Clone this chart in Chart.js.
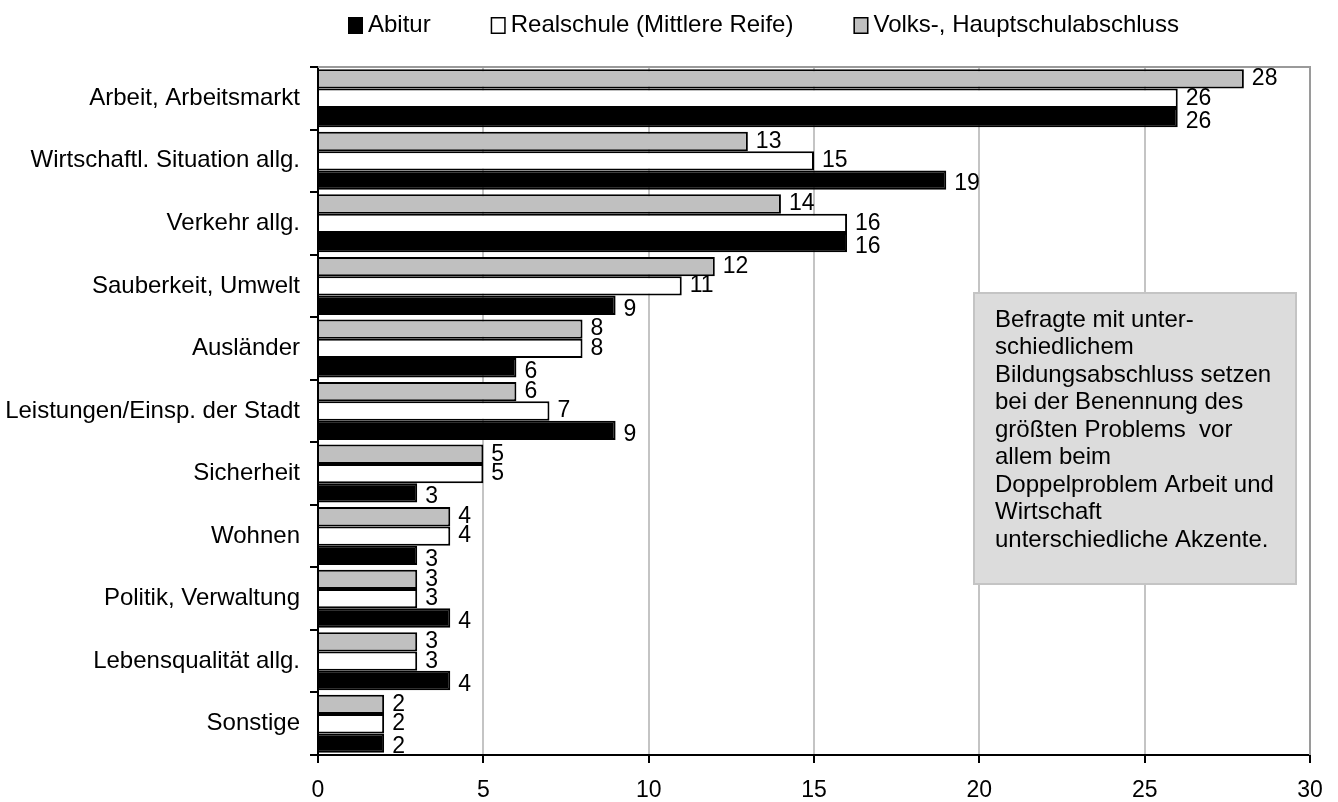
<!DOCTYPE html>
<html>
<head>
<meta charset="utf-8">
<script src="https://cdn.jsdelivr.net/npm/chart.js@4.4.1/dist/chart.umd.min.js"></script>
<style>
  html, body { margin: 0; padding: 0; background: #fff; }
  #wrap { width: 1338px; height: 802px; }
</style>
</head>
<body>
<div id="wrap"><canvas id="c" width="1338" height="802"></canvas></div>
<script>
// Größtes Problem der Stadt nach Bildungsabschluss (Angaben in %)
const categories = [
  'Arbeit, Arbeitsmarkt',
  'Wirtschaftl. Situation allg.',
  'Verkehr allg.',
  'Sauberkeit, Umwelt',
  'Ausländer',
  'Leistungen/Einsp. der Stadt',
  'Sicherheit',
  'Wohnen',
  'Politik, Verwaltung',
  'Lebensqualität allg.',
  'Sonstige'
];
const abitur      = [26, 19, 16,  9, 6, 9, 3, 3, 4, 4, 2];
const realschule  = [26, 15, 16, 11, 8, 7, 5, 4, 3, 3, 2];
const volksschule = [28, 13, 14, 12, 8, 6, 5, 4, 3, 3, 2];
const seriesNames = ['Abitur', 'Realschule (Mittlere Reife)', 'Volks-, Hauptschulabschluss'];
const xTicks = [0, 5, 10, 15, 20, 25, 30];
const noteLines = [
  'Befragte mit unter-',
  'schiedlichem',
  'Bildungsabschluss setzen',
  'bei der Benennung des',
  'größten Problems  vor',
  'allem beim',
  'Doppelproblem Arbeit und',
  'Wirtschaft',
  'unterschiedliche Akzente.'
];

const FONT = '"Liberation Sans", Arial, sans-serif';

// white page behind the chart
const background = {
  id: 'background',
  beforeDraw(chart) {
    const ctx = chart.ctx;
    ctx.save();
    ctx.fillStyle = '#fff';
    ctx.fillRect(0, 0, chart.width, chart.height);
    ctx.restore();
  }
};

// thin grey frame on top of the plot area
const plotFrame = {
  id: 'plotFrame',
  beforeDatasetsDraw(chart) {
    const a = chart.chartArea, ctx = chart.ctx;
    ctx.save();
    ctx.strokeStyle = '#9a9a9a';
    ctx.lineWidth = 2;
    ctx.beginPath();
    ctx.moveTo(a.left, a.top);
    ctx.lineTo(a.right, a.top);
    ctx.lineTo(a.right, a.bottom);
    ctx.stroke();
    ctx.restore();
  }
};

// numbers at the end of each bar
const valueLabels = {
  id: 'valueLabels',
  afterDatasetsDraw(chart) {
    const ctx = chart.ctx;
    ctx.save();
    ctx.font = '23px ' + FONT;
    ctx.fillStyle = '#000';
    ctx.textAlign = 'left';
    ctx.textBaseline = 'middle';
    chart.data.datasets.forEach((ds, i) => {
      const meta = chart.getDatasetMeta(i);
      const shift = ds.labelShift || 0;
      meta.data.forEach((el, j) => {
        ctx.fillText(String(ds.data[j]), el.x + 8, el.y + shift);
      });
    });
    ctx.restore();
  }
};

// legend row: Abitur, Realschule, Volks-/Hauptschule
const legendRow = {
  id: 'legendRow',
  afterDraw(chart) {
    const ctx = chart.ctx;
    ctx.save();
    ctx.font = '24px ' + FONT;
    ctx.textAlign = 'left';
    ctx.textBaseline = 'middle';
    const order = chart.data.datasets.map((d, i) => i).reverse();
    let x = 348;
    const yMid = 25;
    order.forEach(i => {
      const ds = chart.data.datasets[i];
      ctx.fillStyle = ds.backgroundColor;
      ctx.fillRect(x, yMid - 8, 15, 17);
      ctx.strokeStyle = '#000';
      ctx.lineWidth = 1.5;
      ctx.strokeRect(x + 0.75, yMid - 7.25, 13.5, 15.5);
      ctx.fillStyle = '#000';
      ctx.fillText(ds.label, x + 20, yMid);
      x += 20 + ctx.measureText(ds.label).width + 60;
    });
    ctx.restore();
  }
};

// explanatory note box
const noteBox = {
  id: 'noteBox',
  afterDraw(chart) {
    const ctx = chart.ctx;
    ctx.save();
    ctx.fillStyle = '#dcdcdc';
    ctx.fillRect(973, 292, 324, 293);
    ctx.strokeStyle = '#c4c4c4';
    ctx.lineWidth = 2;
    ctx.strokeRect(974, 293, 322, 291);
    ctx.font = '24px ' + FONT;
    ctx.fillStyle = '#000';
    ctx.textAlign = 'left';
    ctx.textBaseline = 'middle';
    noteLines.forEach((line, k) => ctx.fillText(line, 995, 320 + k * 27.5));
    ctx.restore();
  }
};

new Chart(document.getElementById('c'), {
  type: 'bar',
  data: {
    labels: categories,
    datasets: [
      { label: seriesNames[2], data: volksschule, backgroundColor: '#c0c0c0', borderColor: '#000', borderWidth: 2, labelShift: 0 },
      { label: seriesNames[1], data: realschule,  backgroundColor: '#ffffff', borderColor: '#000', borderWidth: 2, labelShift: 0 },
      { label: seriesNames[0], data: abitur,      backgroundColor: '#000000', borderColor: '#000', borderWidth: 2, labelShift: 4 }
    ]
  },
  options: {
    indexAxis: 'y',
    responsive: false,
    animation: false,
    devicePixelRatio: 1,
    categoryPercentage: 0.927,
    barPercentage: 1.0,
    layout: { padding: { left: 0, right: 28, top: 67, bottom: 0 } },
    plugins: {
      legend: { display: false },
      tooltip: { enabled: false }
    },
    scales: {
      x: {
        type: 'linear',
        min: 0,
        max: 30,
        afterBuildTicks(scale) { scale.ticks = xTicks.map(v => ({ value: v })); },
        afterFit(scale) { scale.height = 47; },
        grid: { color: '#c4c4c4', lineWidth: 2, drawTicks: true, tickLength: 8, tickColor: '#000', tickWidth: 2 },
        border: { color: '#000', width: 2 },
        ticks: { color: '#000', font: { family: FONT, size: 23 }, padding: 14 }
      },
      y: {
        type: 'category',
        afterFit(scale) { scale.width = 318; },
        grid: { offset: true, drawOnChartArea: false, drawTicks: true, tickLength: 8, color: '#000', lineWidth: 2 },
        border: { color: '#000', width: 2 },
        ticks: { color: '#000', font: { family: FONT, size: 24 }, padding: 10 }
      }
    }
  },
  plugins: [background, plotFrame, valueLabels, legendRow, noteBox]
});
</script>
</body>
</html>
